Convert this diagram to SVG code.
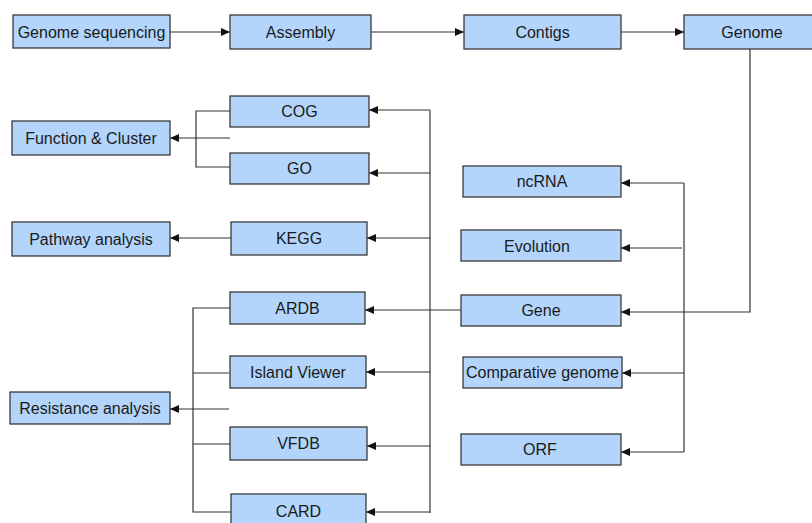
<svg xmlns="http://www.w3.org/2000/svg" width="812" height="523" viewBox="0 0 812 523">
<defs>
<style>
.box{fill:#b3d5fb;stroke:#3a3a3a;stroke-width:1.3}
.t{font-family:"Liberation Sans",Arial,sans-serif;font-size:16px;fill:#1a1a1a;text-anchor:middle;dominant-baseline:central}
.c{fill:none;stroke:#333;stroke-width:1.2}
.a{marker-end:url(#ah)}
</style>
<marker id="ah" markerWidth="10" markerHeight="8" refX="9" refY="4" orient="auto" markerUnits="userSpaceOnUse">
<path d="M0,0 L9,4 L0,8 z" fill="#111"/>
</marker>
</defs>
<rect width="812" height="523" fill="#fff"/>
<g id="connectors">
<path class="c a" d="M170,32 H230"/>
<path class="c a" d="M371,32 H464"/>
<path class="c a" d="M621,32 H684"/>
<path class="c a" d="M750,49 V312 H621"/>
<path class="c" d="M684,183 V452"/>
<path class="c a" d="M684,183 H621"/>
<path class="c a" d="M682,248 H621"/>
<path class="c a" d="M684,373 H622"/>
<path class="c a" d="M684,452 H621"/>
<path class="c" d="M430,110 V513"/>
<path class="c a" d="M430,110 H369"/>
<path class="c a" d="M430,173 H369"/>
<path class="c a" d="M430,238 H367"/>
<path class="c a" d="M461,310 H365"/>
<path class="c a" d="M430,372 H366"/>
<path class="c a" d="M430,446 H367"/>
<path class="c a" d="M430,512 H366"/>
<path class="c" d="M230,111 H196 V167 H230"/>
<path class="c a" d="M230,138 H170"/>
<path class="c a" d="M231,238 H170"/>
<path class="c" d="M230,308 H193 V512 H231"/>
<path class="c" d="M193,373 H229"/>
<path class="c" d="M193,444 H231"/>
<path class="c a" d="M229,409 H170"/>
</g>
<g id="genome-sequencing"><rect class="box" x="13" y="15" width="157" height="33"/><text class="t" x="91.5" y="32">Genome sequencing</text></g>
<g id="assembly"><rect class="box" x="230" y="15" width="141" height="34"/><text class="t" x="300.5" y="32">Assembly</text></g>
<g id="contigs"><rect class="box" x="464" y="15" width="157" height="34"/><text class="t" x="542.5" y="32">Contigs</text></g>
<g id="genome"><rect class="box" x="684" y="15" width="136" height="34"/><text class="t" x="752" y="32">Genome</text></g>
<g id="cog"><rect class="box" x="230" y="96" width="139" height="31"/><text class="t" x="299.5" y="111.5">COG</text></g>
<g id="go"><rect class="box" x="230" y="153" width="139" height="31"/><text class="t" x="299.5" y="168.5">GO</text></g>
<g id="function-cluster"><rect class="box" x="12" y="121" width="158" height="34"/><text class="t" x="91" y="138">Function &amp; Cluster</text></g>
<g id="kegg"><rect class="box" x="231" y="222" width="136" height="33"/><text class="t" x="299" y="238.5">KEGG</text></g>
<g id="pathway-analysis"><rect class="box" x="12" y="222" width="158" height="34"/><text class="t" x="91" y="239">Pathway analysis</text></g>
<g id="ardb"><rect class="box" x="230" y="292" width="135" height="32"/><text class="t" x="297.5" y="308">ARDB</text></g>
<g id="island-viewer"><rect class="box" x="230" y="356" width="136" height="32"/><text class="t" x="298" y="372">Island Viewer</text></g>
<g id="vfdb"><rect class="box" x="230" y="427" width="137" height="33"/><text class="t" x="298.5" y="443.5">VFDB</text></g>
<g id="card"><rect class="box" x="231" y="494" width="135" height="33"/><text class="t" x="298.5" y="511">CARD</text></g>
<g id="resistance-analysis"><rect class="box" x="10" y="392" width="160" height="32"/><text class="t" x="90" y="408">Resistance analysis</text></g>
<g id="ncrna"><rect class="box" x="463" y="166" width="158" height="31"/><text class="t" x="542" y="181.5">ncRNA</text></g>
<g id="evolution"><rect class="box" x="461" y="230" width="160" height="31"/><text class="t" x="537" y="246">Evolution</text></g>
<g id="gene"><rect class="box" x="461" y="295" width="160" height="31"/><text class="t" x="541" y="310.5">Gene</text></g>
<g id="comparative-genome"><rect class="box" x="463" y="357" width="159" height="31"/><text class="t" x="542.5" y="372.5">Comparative genome</text></g>
<g id="orf"><rect class="box" x="461" y="434" width="160" height="31"/><text class="t" x="540" y="449.5">ORF</text></g>
</svg>
